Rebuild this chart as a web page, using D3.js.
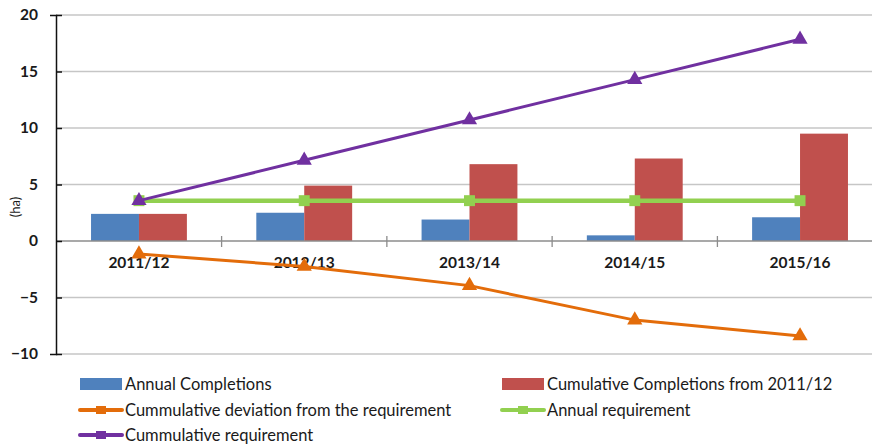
<!DOCTYPE html>
<html>
<head>
<meta charset="utf-8">
<script src="https://cdn.jsdelivr.net/npm/d3@7"></script>
<style>
  body { margin: 0; background: #fff; }
  svg text { font-family: Lato, "Open Sans", sans-serif; fill: #1a1a1a; }
</style>
</head>
<body>
<div id="graphique"></div>
<script>
// data
const years = ['2011/12', '2012/13', '2013/14', '2014/15', '2015/16']
const annualCompletions = [2.4, 2.5, 1.9, 0.5, 2.1]
const cumulativeCompletions = [2.4, 4.9, 6.8, 7.3, 9.5]
const cumulativeDeviation = [-1.15, -2.25, -3.95, -7.0, -8.4]
const annualRequirement = [3.57, 3.57, 3.57, 3.57, 3.57]
const cumulativeRequirement = [3.57, 7.14, 10.71, 14.28, 17.85]
const yTicks = [-10, -5, 0, 5, 10, 15, 20]

const width = 872, height = 444
let margin = { top: 15, right: 0, bottom: 90, left: 56 }

const svg = d3.select('#graphique').append('svg')
    .attr('width', width)
    .attr('height', height)

const x = d3.scaleBand()
    .domain(years)
    .range([margin.left, 883])
    .paddingInner(0.42)
    .paddingOuter(0.212)
const y = d3.scaleLinear()
    .domain([-10, 20])
    .range([354, 15])

const sub = d3.scaleBand()
    .domain(['a', 'b'])
    .range([0, x.bandwidth()])

// gridlines
svg.append('g')
    .selectAll('line')
    .data(yTicks.filter(d => d != 0))
    .enter().append('line')
    .attr('x1', margin.left).attr('x2', width)
    .attr('y1', d => y(d)).attr('y2', d => y(d))
    .attr('stroke', '#c6c6c6').attr('stroke-width', 1.3)

// bars
const groups = svg.append('g')
    .selectAll('g')
    .data(years.map((yr, i) => ({ yr, a: annualCompletions[i], b: cumulativeCompletions[i] })))
    .enter().append('g')
    .attr('transform', d => 'translate(' + x(d.yr) + ',0)')

groups.append('rect')
    .attr('x', sub('a')).attr('width', sub.bandwidth())
    .attr('y', d => y(d.a)).attr('height', d => y(0) - y(d.a))
    .attr('fill', '#4f81bd')
groups.append('rect')
    .attr('x', sub('b')).attr('width', sub.bandwidth())
    .attr('y', d => y(d.b)).attr('height', d => y(0) - y(d.b))
    .attr('fill', '#c0504d')

// x axis at zero
const xAxis = svg.append('g')
    .attr('transform', 'translate(0,' + y(0) + ')')
xAxis.append('line')
    .attr('x1', margin.left).attr('x2', width)
    .attr('stroke', '#8c8c8c').attr('stroke-width', 1.3)
const step = x.step()
xAxis.selectAll('.tk')
    .data(years.slice(1))
    .enter().append('line')
    .attr('x1', d => x(d) - step * x.paddingInner() / 2)
    .attr('x2', d => x(d) - step * x.paddingInner() / 2)
    .attr('y1', -5).attr('y2', 6)
    .attr('stroke', '#8c8c8c').attr('stroke-width', 1.3)
xAxis.selectAll('text')
    .data(years)
    .enter().append('text')
    .attr('x', d => x(d) + x.bandwidth() / 2)
    .attr('y', 27)
    .attr('text-anchor', 'middle')
    .attr('font-size', 15.5)
    .attr('font-weight', 'bold')
    .text(d => d)

// y axis
const yAxis = svg.append('g')
    .attr('transform', 'translate(' + margin.left + ',0)')
    .call(d3.axisLeft(y).tickValues(yTicks).tickSize(6).tickPadding(12))
yAxis.select('.domain').attr('stroke', '#111').attr('stroke-width', 1.5)
yAxis.selectAll('.tick line').attr('x2', 6).attr('stroke', '#111').attr('stroke-width', 1.5)
yAxis.selectAll('.tick text')
    .attr('font-size', 15.5).attr('font-weight', 'bold')
    .attr('font-family', 'Lato, sans-serif').attr('fill', '#1a1a1a')

svg.append('text')
    .attr('transform', 'translate(20,' + 207 + ') rotate(-90)')
    .attr('text-anchor', 'middle')
    .attr('font-size', 13)
    .text('(ha)')

// lines
const cx = d => x(d) + x.bandwidth() / 2
const line = d3.line().x(d => cx(d.yr)).y(d => y(d.v))
const tri = d3.symbol().type(d3.symbolTriangle).size(100)
const sq = d3.symbol().type(d3.symbolSquare).size(120)

const series = [
    { vals: annualRequirement, color: '#92d050', sym: sq, w: 4.5 },
    { vals: cumulativeDeviation, color: '#e36c0a', sym: tri, w: 3 },
    { vals: cumulativeRequirement, color: '#7030a0', sym: tri, w: 3 }
]
for (const s of series) {
    const pts = years.map((yr, i) => ({ yr, v: s.vals[i] }))
    svg.append('path')
        .datum(pts)
        .attr('d', line)
        .attr('fill', 'none')
        .attr('stroke', s.color)
        .attr('stroke-width', s.w)
    svg.append('g')
        .selectAll('path')
        .data(pts)
        .enter().append('path')
        .attr('d', s.sym)
        .attr('transform', d => 'translate(' + cx(d.yr) + ',' + y(d.v) + ')')
        .attr('fill', s.color)
}

// legend
const legend = [
    { label: 'Annual Completions', type: 'bar', color: '#4f81bd', x: 80, y: 384 },
    { label: 'Cumulative Completions from 2011/12', type: 'bar', color: '#c0504d', x: 502, y: 384 },
    { label: 'Cummulative deviation from the requirement', type: 'line', color: '#e36c0a', x: 80, y: 410 },
    { label: 'Annual requirement', type: 'line', color: '#92d050', x: 502, y: 410 },
    { label: 'Cummulative requirement', type: 'line', color: '#7030a0', x: 80, y: 435 }
]
const lg = svg.append('g')
    .selectAll('g')
    .data(legend)
    .enter().append('g')
    .attr('transform', d => 'translate(' + d.x + ',' + d.y + ')')
lg.filter(d => d.type == 'bar').append('rect')
    .attr('x', 0).attr('y', -6).attr('width', 42).attr('height', 12)
    .attr('fill', d => d.color)
lg.filter(d => d.type == 'line').append('line')
    .attr('x1', 0).attr('x2', 42)
    .attr('stroke', d => d.color).attr('stroke-width', 4)
    .attr('stroke-linecap', 'round')
lg.filter(d => d.type == 'line').append('rect')
    .attr('x', 16).attr('y', -4).attr('width', 10).attr('height', 8)
    .attr('fill', d => d.color)
lg.append('text')
    .attr('x', 45).attr('y', 5.5)
    .attr('font-size', 16.5)
    .text(d => d.label)
</script>
</body>
</html>
